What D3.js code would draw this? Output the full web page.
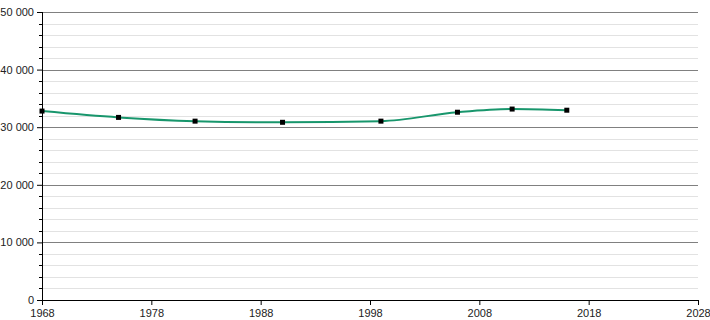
<!DOCTYPE html>
<html>
<head>
<meta charset="utf-8">
<script src="https://cdn.jsdelivr.net/npm/d3@7"></script>
<style>
  body { margin: 0; background: #fff; }
  text { font-family: "Liberation Sans", Arial, sans-serif; font-size: 11px; fill: #222; }
</style>
</head>
<body>
<div id="chart"></div>
<script>
const years = [1968, 1975, 1982, 1990, 1999, 2006, 2011, 2016];
const population = [32800, 31700, 31050, 30850, 31050, 32600, 33150, 32950];
const xTicks = [1968, 1978, 1988, 1998, 2008, 2018, 2028];
const yTicks = [0, 10000, 20000, 30000, 40000, 50000];

const margin = { top: 12, right: 12, bottom: 20, left: 42 },
  width = 710 - margin.left - margin.right,
  height = 320 - margin.top - margin.bottom,
  lineColor = "#18966c";

const x = d3.scaleLinear().domain([1968, 2028]).range([0, width]);
const y = d3.scaleLinear().domain([0, 50000]).range([height, 0]);

const svg = d3
  .select("#chart")
  .append("svg")
  .attr("width", width + margin.left + margin.right)
  .attr("height", height + margin.top + margin.bottom)
  .append("g")
  .attr("transform", "translate(" + margin.left + "," + margin.top + ")");

// minor grid every 2000
const minor = d3.range(0, 50001, 2000).filter(d => d % 10000 !== 0);
svg
  .selectAll(".minor")
  .data(minor)
  .enter()
  .append("line")
  .attr("x1", 0)
  .attr("x2", width)
  .attr("y1", d => Math.round(y(d)) + 0.5)
  .attr("y2", d => Math.round(y(d)) + 0.5)
  .style("stroke", "#e2e2e2");

svg
  .selectAll(".minor-tick")
  .data(minor)
  .enter()
  .append("line")
  .attr("x1", -3)
  .attr("x2", 0)
  .attr("y1", d => Math.round(y(d)) + 0.5)
  .attr("y2", d => Math.round(y(d)) + 0.5)
  .style("stroke", "#000");

svg
  .selectAll(".major")
  .data(yTicks.filter(d => d > 0))
  .enter()
  .append("line")
  .attr("x1", 0)
  .attr("x2", width)
  .attr("y1", d => Math.round(y(d)) + 0.5)
  .attr("y2", d => Math.round(y(d)) + 0.5)
  .style("stroke", "#808080");

const fmt = d => d3.format(",")(d).replace(/,/g, " ");

const yAxis = svg
  .append("g")
  .call(d3.axisLeft(y).tickValues(yTicks).tickFormat(fmt).tickSize(5).tickPadding(3));
yAxis.select(".domain").attr("d", "M0.5," + height + "V0");

const xAxis = svg
  .append("g")
  .attr("transform", "translate(0," + height + ")")
  .call(d3.axisBottom(x).tickValues(xTicks).tickFormat(d3.format("d")).tickSize(5).tickPadding(4));
xAxis.select(".domain").attr("d", "M0," + 0.5 + "H" + width);

svg.selectAll(".tick text").style("font-family", "Liberation Sans, Arial, sans-serif").style("font-size", "11px").style("fill", "#222");

const data = years.map((d, i) => ({ year: d, value: population[i] }));

svg
  .append("path")
  .datum(data)
  .attr("d", d3.line().x(d => x(d.year)).y(d => y(d.value)).curve(d3.curveMonotoneX))
  .style("fill", "none")
  .style("stroke", lineColor)
  .style("stroke-width", 2);

svg
  .selectAll(".pt")
  .data(data)
  .enter()
  .append("rect")
  .attr("x", d => x(d.year) - 2.5)
  .attr("y", d => y(d.value) - 2.5)
  .attr("width", 5)
  .attr("height", 5)
  .style("fill", "#000");
</script>
</body>
</html>
